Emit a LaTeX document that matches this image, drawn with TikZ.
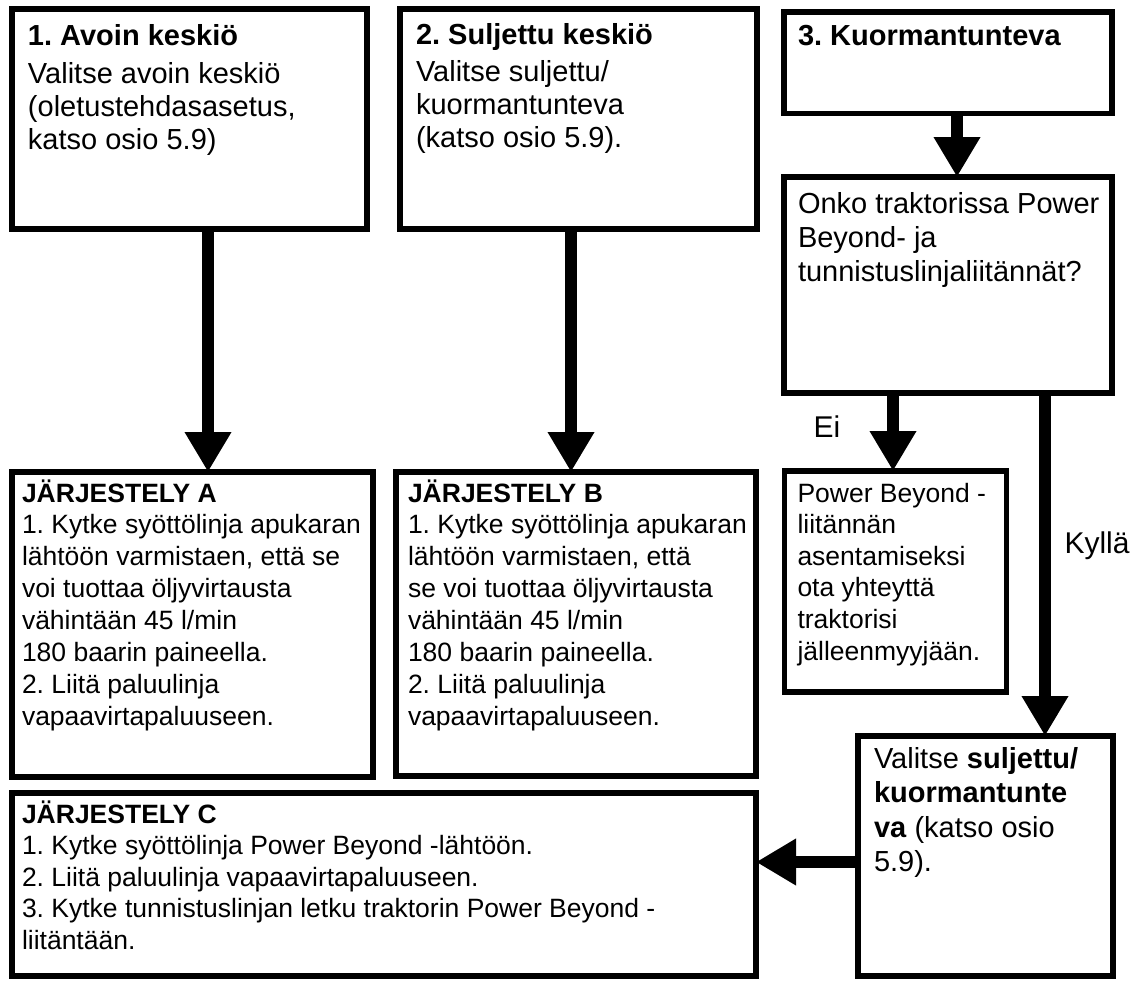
\documentclass[tikz,border=0pt]{standalone}
\usepackage{fontspec}
\setmainfont{Liberation Sans}
\usetikzlibrary{arrows.meta}
\frenchspacing

\begin{document}
\begin{tikzpicture}[x=1pt, y=-1pt,
  box/.style={draw, line width=5.5pt, inner sep=0pt, outer sep=0pt, anchor=north west},
  flow/.style={line width=12pt, -{Triangle[length=40pt, width=44pt]}},
  answer/.style={anchor=base, font=\fontsize{30}{36}\selectfont}]
% Box text: width, height, left inset, first baseline, lines
\def\boxtext#1#2#3#4#5{\parbox[c][#2pt][t]{#1pt}{\raggedright\leftskip=#3pt\rule{0pt}{#4pt}#5}}
\def\bigtype{\fontsize{29}{33.3}\selectfont}
\def\smalltype{\fontsize{26.5}{31.9}\selectfont}

\useasboundingbox (0,0) rectangle (1139,980);

% Top row
\node[box] (open) at (12,9) {\boxtext{355}{220}{16}{36}{\bigtype\textbf{1. Avoin keskiö}\\[5pt] Valitse avoin keskiö\\ (oletustehdasasetus,\\ katso osio 5.9)}};
\node[box] (closed) at (400,9) {\boxtext{357}{220}{16}{35}{\bigtype\textbf{2. Suljettu keskiö}\\[4pt] Valitse suljettu/\\ kuormantunteva\\ (katso osio 5.9).}};
\node[box] (load) at (784,12) {\boxtext{328}{101.5}{14}{33}{\bigtype\textbf{3. Kuormantunteva}}};
\node[box] (question) at (784,177) {\boxtext{328}{216}{14}{36}{\bigtype\baselineskip=34pt Onko traktorissa Power\\ Beyond- ja\\ tunnistuslinjaliitännät?}};

% Middle row
\node[box] (setupA) at (12,472) {\boxtext{361}{305}{10}{30}{\smalltype\textbf{JÄRJESTELY A}\\ 1. Kytke syöttölinja apukaran\\ lähtöön varmistaen, että se\\ voi tuottaa öljyvirtausta\\ vähintään 45 l/min\\ 180 baarin paineella.\\ 2. Liitä paluulinja\\ vapaavirtapaluuseen.}};
\node[box] (setupB) at (396,472) {\boxtext{360}{304}{12}{30}{\smalltype\textbf{JÄRJESTELY B}\\ 1. Kytke syöttölinja apukaran\\ lähtöön varmistaen, että\\ se voi tuottaa öljyvirtausta\\ vähintään 45 l/min\\ 180 baarin paineella.\\ 2. Liitä paluulinja\\ vapaavirtapaluuseen.}};
\node[box] (contact) at (784.5,471) {\boxtext{222}{221}{13}{31}{\smalltype\baselineskip=31.6pt Power Beyond -\\ liitännän\\ asentamiseksi\\ ota yhteyttä\\ traktorisi\\ jälleenmyyjään.}};

% Bottom row
\node[box] (setupC) at (12,793) {\boxtext{744}{183}{10}{30}{\smalltype\baselineskip=31.5pt \textbf{JÄRJESTELY C}\\ 1. Kytke syöttölinja Power Beyond -lähtöön.\\ 2. Liitä paluulinja vapaavirtapaluuseen.\\ 3. Kytke tunnistuslinjan letku traktorin Power Beyond -\\ liitäntään.}};
\node[box] (select) at (858,736) {\boxtext{255}{240}{16}{32}{\bigtype\baselineskip=34.5pt Valitse \textbf{suljettu/}\\ \textbf{kuormantunte}\\ \textbf{va} (katso osio\\ 5.9).}};

% Arrows
\draw[flow] ([xshift=18.5pt]open.south) -- ([xshift=15.5pt]setupA.north);
\draw[flow] ([xshift=-7.5pt]closed.south) -- ([xshift=-5pt]setupB.north);
\draw[flow] ([xshift=9pt]load.south) -- ([xshift=9pt]question.north);
\draw[flow] ([xshift=-55pt]question.south) -- ([xshift=-2.5pt]contact.north);
\draw[flow] ([xshift=97pt]question.south) -- ([xshift=59.5pt]select.north);
\draw[flow] ([yshift=-6pt]select.west) -- ([yshift=22.5pt]setupC.east);

\node[answer] (no) at (827,437) {Ei};
\node[answer] (yes) at (1097,553) {Kyllä};
\end{tikzpicture}
\end{document}
